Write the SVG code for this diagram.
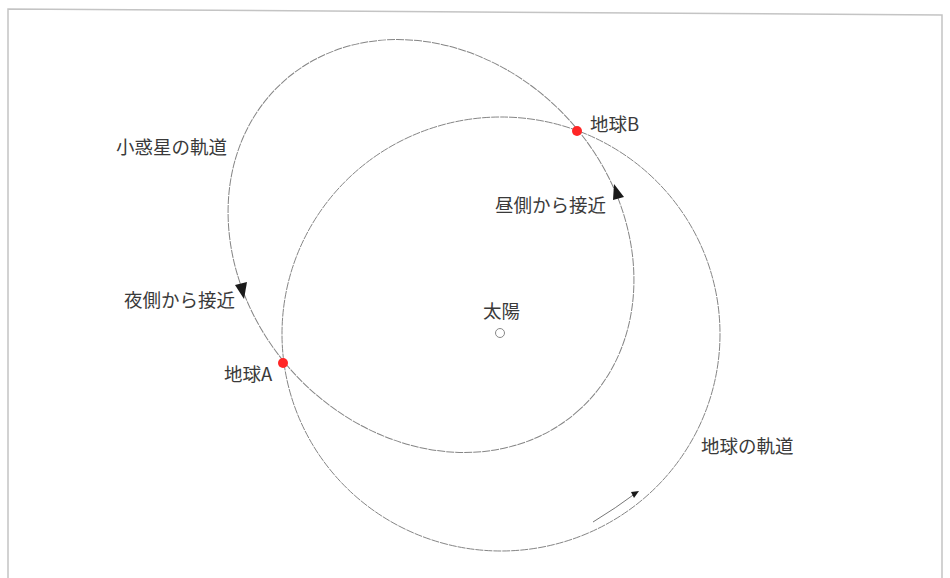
<svg xmlns="http://www.w3.org/2000/svg" width="950" height="578" viewBox="0 0 950 578">
<style>
.orbit{fill:none;stroke:#858585;stroke-width:1;stroke-dasharray:8 1}
.lbl{font-family:"Noto Sans CJK JP","Noto Sans",sans-serif;font-size:18.5px;fill:#3a3a3a}
.head{fill:#1a1a1a}
.pt{fill:#ff2626}
</style>
<rect width="950" height="578" fill="#fff"/>
<path d="M8,578 V9 L942,15 V578" fill="none" stroke="#c4c4c4" stroke-width="1.5"/>
<g id="connectors">
<ellipse id="asteroid-orbit" class="orbit" cx="431" cy="246" rx="221" ry="187" transform="rotate(48 431 246)"/>
<ellipse id="earth-orbit" class="orbit" cx="501" cy="334" rx="219" ry="217"/>
<path class="head" d="M244,299 L235,285 L247,282 Z"/>
<path class="head" d="M614,184 L624,197 L613,200 Z"/>
<path d="M593,522 Q616,508 636,493" fill="none" stroke="#777" stroke-width="1"/>
<path class="head" d="M639,491 L631,492 L634,498 Z"/>
</g>
<g id="sun"><circle cx="500" cy="333" r="4.5" fill="#fff" stroke="#888" stroke-width="1"/><text class="lbl" x="483" y="318">太陽</text></g>
<g id="earthA"><circle class="pt" cx="283" cy="363" r="5"/><text class="lbl" x="224" y="381">地球A</text></g>
<g id="earthB"><circle class="pt" cx="577" cy="131" r="5"/><text class="lbl" x="590" y="131">地球B</text></g>
<g id="label-asteroid"><text class="lbl" x="116" y="154">小惑星の軌道</text></g>
<g id="label-night"><text class="lbl" x="124" y="307">夜側から接近</text></g>
<g id="label-day"><text class="lbl" x="495" y="212">昼側から接近</text></g>
<g id="label-earth"><text class="lbl" x="701" y="453">地球の軌道</text></g>
</svg>
